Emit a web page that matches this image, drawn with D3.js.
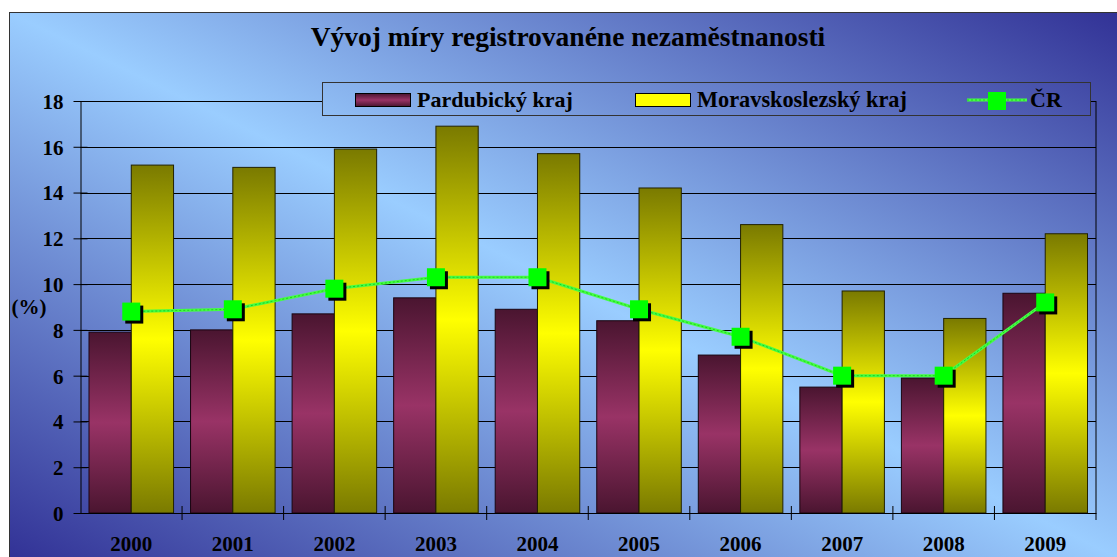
<!DOCTYPE html>
<html>
<head>
<meta charset="utf-8">
<script src="https://cdn.jsdelivr.net/npm/d3@7"></script>
<style>
  body { margin: 0; background: #fff; }
  text { font-family: "Liberation Serif", "Times New Roman", serif; font-weight: bold; fill: #000; }
</style>
</head>
<body>
<script>
// data
var years = ["2000","2001","2002","2003","2004","2005","2006","2007","2008","2009"];
var pardubicky = [7.9, 8.0, 8.7, 9.4, 8.9, 8.4, 6.9, 5.5, 5.9, 9.6];
var moravskoslezsky = [15.2, 15.1, 15.9, 16.9, 15.7, 14.2, 12.6, 9.7, 8.5, 12.2];
var cr = [8.8, 8.9, 9.8, 10.3, 10.3, 8.9, 7.7, 6.0, 6.0, 9.2];
var yTicks = [0, 2, 4, 6, 8, 10, 12, 14, 16, 18];
var seriesNames = ["Pardubický kraj", "Moravskoslezský kraj", "ČR"];

var width = 1117, height = 557;
var plotLeft = 80.5, plotRight = 1096, plotTop = 101, plotBottom = 513;

var svg = d3.select("body").append("svg")
    .attr("width", width)
    .attr("height", height);

var defs = svg.append("defs");

// background gradient: light along top-left -> bottom-right diagonal, dark corners
var bg = defs.append("linearGradient").attr("id", "bg")
    .attr("gradientUnits", "userSpaceOnUse")
    .attr("gradientTransform", "matrix(1108 0 0 545 9.5 12.5)")
    .attr("x1", 0).attr("y1", 1).attr("x2", 1).attr("y2", 0);
bg.append("stop").attr("offset", "0%").attr("stop-color", "#323296");
bg.append("stop").attr("offset", "50%").attr("stop-color", "#9acdff");
bg.append("stop").attr("offset", "100%").attr("stop-color", "#323296");

var gp = defs.append("linearGradient").attr("id", "gp")
    .attr("x1", 0).attr("y1", 0).attr("x2", 0).attr("y2", 1);
gp.append("stop").attr("offset", "0%").attr("stop-color", "#4a1530");
gp.append("stop").attr("offset", "50%").attr("stop-color", "#993366");
gp.append("stop").attr("offset", "100%").attr("stop-color", "#4a1530");

var gm = defs.append("linearGradient").attr("id", "gm")
    .attr("x1", 0).attr("y1", 0).attr("x2", 0).attr("y2", 1);
gm.append("stop").attr("offset", "0%").attr("stop-color", "#7a7a00");
gm.append("stop").attr("offset", "50%").attr("stop-color", "#ffff00");
gm.append("stop").attr("offset", "100%").attr("stop-color", "#7a7a00");

// frame
svg.append("rect")
    .attr("x", 9.5).attr("y", 12.5)
    .attr("width", 1130).attr("height", 560)
    .attr("fill", "url(#bg)")
    .attr("stroke", "#333").attr("stroke-width", 1);

// title
svg.append("text")
    .attr("x", 568).attr("y", 46)
    .attr("text-anchor", "middle")
    .style("font-size", "27.5px")
    .text("Vývoj míry registrovanéne nezaměstnanosti");

// scales
var x = d3.scaleBand().domain(years).range([plotLeft, plotRight]);
var x1 = d3.scaleBand().domain(["p", "m"]).range([8.5, x.bandwidth() - 8.5]);
var y = d3.scaleLinear().domain([0, 18]).range([plotBottom, plotTop]);

// gridlines
svg.append("g").selectAll("line")
    .data(yTicks.slice(1))
    .enter().append("line")
    .attr("x1", plotLeft).attr("x2", plotRight)
    .attr("y1", function(d){ return Math.round(y(d)) + 0.5; })
    .attr("y2", function(d){ return Math.round(y(d)) + 0.5; })
    .attr("stroke", "#000").attr("stroke-width", 1);

// right border of plot
svg.append("line")
    .attr("x1", plotRight).attr("x2", plotRight)
    .attr("y1", y(18)).attr("y2", plotBottom + 7)
    .attr("stroke", "#000");

// bars
var groups = svg.append("g").selectAll("g")
    .data(years)
    .enter().append("g")
    .attr("transform", function(d){ return "translate(" + x(d) + ",0)"; });

groups.append("rect")
    .attr("x", x1("p"))
    .attr("width", x1.bandwidth())
    .attr("y", function(d,i){ return y(pardubicky[i]); })
    .attr("height", function(d,i){ return plotBottom - y(pardubicky[i]); })
    .attr("fill", "url(#gp)")
    .attr("stroke", "#1a0510").attr("stroke-width", 1);

groups.append("rect")
    .attr("x", x1("m"))
    .attr("width", x1.bandwidth())
    .attr("y", function(d,i){ return y(moravskoslezsky[i]); })
    .attr("height", function(d,i){ return plotBottom - y(moravskoslezsky[i]); })
    .attr("fill", "url(#gm)")
    .attr("stroke", "#222200").attr("stroke-width", 1);

// axes
var yAxis = d3.axisLeft(y).tickValues(yTicks).tickSizeInner(7).tickSizeOuter(0).tickPadding(10);
var yg = svg.append("g").attr("transform", "translate(" + plotLeft + ",0)").call(yAxis);
yg.selectAll(".tick line").attr("x2", -7).attr("x1", 7);
yg.selectAll("text").style("font-size", "21px")
    .style("font-family", "Liberation Serif, serif").style("font-weight", "bold")
    .attr("dy", "0.35em");
yg.select(".domain").attr("stroke", "#000");

var xAxis = d3.axisBottom(x).tickSize(0).tickPadding(23);
var xg = svg.append("g").attr("transform", "translate(0," + plotBottom + ")").call(xAxis);
xg.selectAll("text").style("font-size", "21px")
    .style("font-family", "Liberation Serif, serif").style("font-weight", "bold");
xg.select(".domain").attr("stroke", "#000");
// category boundary ticks
xg.selectAll("line.sep")
    .data(years.slice(1))
    .enter().append("line").attr("class", "sep")
    .attr("x1", function(d){ return x(d); }).attr("x2", function(d){ return x(d); })
    .attr("y1", -7).attr("y2", 7)
    .attr("stroke", "#000");

// y label
svg.append("text")
    .attr("x", 29).attr("y", 314)
    .attr("text-anchor", "middle")
    .style("font-size", "21px")
    .text("(%)");

// CR line
var line = d3.line()
    .x(function(d,i){ return x(years[i]) + x.bandwidth() / 2; })
    .y(function(d){ return y(d); });

svg.append("path")
    .datum(cr)
    .attr("d", line)
    .attr("fill", "none")
    .attr("stroke", "#44ff44").attr("stroke-width", 3);
svg.append("path")
    .datum(cr)
    .attr("d", line)
    .attr("fill", "none")
    .attr("stroke", "#22cc22").attr("stroke-width", 1)
    .attr("stroke-dasharray", "2,2");

var ms = 18;
svg.append("g").selectAll("rect")
    .data(cr)
    .enter().append("rect")
    .attr("x", function(d,i){ return x(years[i]) + x.bandwidth() / 2 - ms / 2 + 3; })
    .attr("y", function(d){ return y(d) - ms / 2 + 3; })
    .attr("width", ms).attr("height", ms)
    .attr("fill", "#000");
svg.append("g").selectAll("rect")
    .data(cr)
    .enter().append("rect")
    .attr("x", function(d,i){ return x(years[i]) + x.bandwidth() / 2 - ms / 2; })
    .attr("y", function(d){ return y(d) - ms / 2; })
    .attr("width", ms).attr("height", ms)
    .attr("fill", "#00ff00");

// legend
var legend = svg.append("g");
legend.append("rect")
    .attr("x", 322.5).attr("y", 82.5)
    .attr("width", 768).attr("height", 33)
    .attr("fill", "url(#bg)")
    .attr("stroke", "#333").attr("stroke-width", 1);

legend.append("rect")
    .attr("x", 355.5).attr("y", 93.5).attr("width", 55).attr("height", 13)
    .attr("fill", "url(#gp)").attr("stroke", "#000");
legend.append("text").attr("x", 417).attr("y", 107)
    .style("font-size", "22px").text(seriesNames[0]);

legend.append("rect")
    .attr("x", 635.5).attr("y", 93.5).attr("width", 55).attr("height", 13)
    .attr("fill", "#ffff00").attr("stroke", "#000");
legend.append("text").attr("x", 697).attr("y", 107)
    .style("font-size", "22.3px").text(seriesNames[1]);

legend.append("line")
    .attr("x1", 967).attr("x2", 1027).attr("y1", 100).attr("y2", 100)
    .attr("stroke", "#44ff44").attr("stroke-width", 3);
legend.append("line")
    .attr("x1", 967).attr("x2", 1027).attr("y1", 100).attr("y2", 100)
    .attr("stroke", "#22cc22").attr("stroke-width", 1)
    .attr("stroke-dasharray", "2,2");
legend.append("rect")
    .attr("x", 988).attr("y", 92).attr("width", 18).attr("height", 18)
    .attr("fill", "#00ff00");
legend.append("text").attr("x", 1030).attr("y", 107)
    .style("font-size", "22px").text(seriesNames[2]);
</script>
</body>
</html>
